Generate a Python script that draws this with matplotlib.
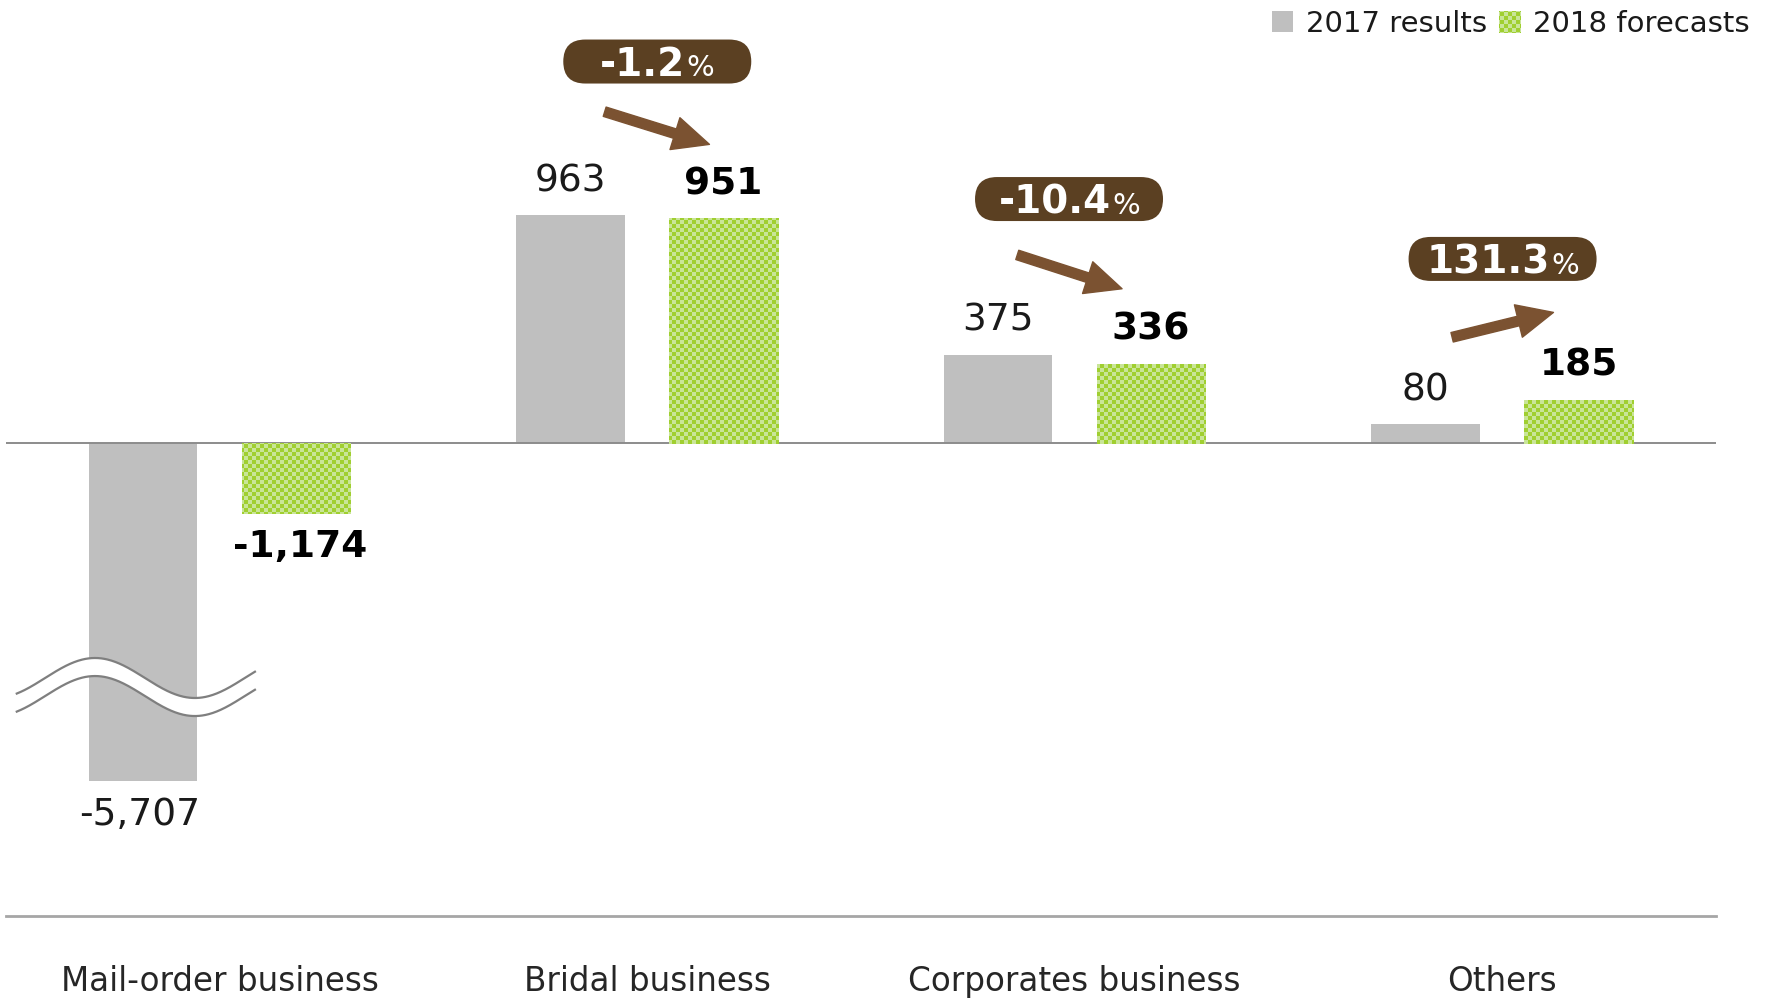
import numpy as np
import matplotlib
matplotlib.use("Agg")
import matplotlib.pyplot as plt
import matplotlib.transforms as mtransforms
from matplotlib.patches import FancyBboxPatch, Patch
from matplotlib.offsetbox import TextArea, HPacker, AnnotationBbox

# operating income by segment (millions of yen)
categories = ["Mail-order business", "Bridal business", "Corporates business", "Others"]
results_2017 = [-5707, 963, 375, 80]
forecasts_2018 = [-1174, 951, 336, 185]
change_labels = [None, "-1.2", "-10.4", "131.3"]
legend_labels = ["2017 results", "2018 forecasts"]

GRAY = "#bfbfbf"
GREEN_DARK = (160, 207, 48)
GREEN_LIGHT = (201, 229, 152)
BADGE = "#5b4022"
ARROW = "#7b5231"
TEXT = "#1a1a1a"

W, H, DPI = 1769, 1001, 100
NEG_SQUEEZE = 4.0  # negative side drawn at 1/4 scale


def fwd(y):
    y = np.asarray(y, dtype=float)
    return np.where(y >= 0, y, y / NEG_SQUEEZE)


def inv(y):
    y = np.asarray(y, dtype=float)
    return np.where(y >= 0, y, y * NEG_SQUEEZE)


fig = plt.figure(figsize=(W / DPI, H / DPI), dpi=DPI)
ax = fig.add_axes([0.0032, 0.0849, 0.9668, 0.9151])
ax.set_yscale("function", functions=(fwd, inv))
ax.set_xlim(-0.5, 3.5)
ax.set_ylim(-7989, 1873)

x = np.arange(len(categories))
bw = 0.254
off = 0.179

bars_a = ax.bar(x - off, results_2017, width=bw, color=GRAY, zorder=2)
bars_b = ax.bar(x + off, forecasts_2018, width=bw, color=np.array(GREEN_LIGHT) / 255, zorder=2)

ax.axhline(0, color="#8c8c8c", lw=1.4, zorder=3)

# value labels
for xi, v in zip(x - off, results_2017):
    dy = 24.5 if v >= 0 else -24.5
    ax.annotate(f"{v:,}", (xi, v), xytext=(-2 if v < 0 else 0, dy), textcoords="offset points",
                ha="center", va="center", fontsize=27, color=TEXT)
for xi, v in zip(x + off, forecasts_2018):
    dy = 24.5 if v >= 0 else -24.5
    ax.annotate(f"{v:,}", (xi, v), xytext=(3 if v < 0 else 0, dy), textcoords="offset points",
                ha="center", va="center", fontsize=27, color="black", fontweight="bold")

# axis break on the long negative bar
yb = results_2017[0] * 0.695
xs = np.linspace(-0.474, 0.083, 300)
upper = yb + 338 * np.cos(2 * np.pi * (xs + 0.291) / 0.467)
lower = upper - 305
ax.fill_between(xs, lower, upper, color="white", zorder=4, lw=0)
ax.plot(xs, upper, color="#7f7f7f", lw=1.6, zorder=5)
ax.plot(xs, lower, color="#7f7f7f", lw=1.6, zorder=5)

# change badges and arrows
badge_pos = [None, (1.024, 1613), (1.987, 1032), (3.001, 779)]
arrow_pos = [None,
             ((0.901, 1401), (1.146, 1263)),
             ((1.866, 796), (2.111, 653)),
             ((2.883, 448), (3.120, 553))]
for lab, bp, ap in zip(change_labels, badge_pos, arrow_pos):
    if lab is None:
        continue
    bw_in, bh_in = 1.88, 0.44
    tr = fig.dpi_scale_trans + mtransforms.ScaledTranslation(bp[0], bp[1], ax.transData)
    pill = FancyBboxPatch((-bw_in / 2, -bh_in / 2), bw_in, bh_in,
                          boxstyle=f"round,pad=0,rounding_size={bh_in / 2}",
                          fc=BADGE, ec="none", transform=tr, zorder=6)
    ax.add_patch(pill)
    txt = HPacker(children=[
        TextArea(lab, textprops=dict(color="white", fontsize=28, fontweight="bold")),
        TextArea("%", textprops=dict(color="white", fontsize=21)),
    ], align="baseline", pad=0, sep=1)
    ab = AnnotationBbox(txt, bp, frameon=False, box_alignment=(0.5, 0.6), zorder=7)
    ax.add_artist(ab)
    ax.annotate("", xy=ap[1], xytext=ap[0],
                arrowprops=dict(arrowstyle="simple,head_length=1.3,head_width=1.2,tail_width=0.35",
                                mutation_scale=20, color=ARROW, shrinkA=0, shrinkB=0),
                zorder=6)

# axes styling
for s in ["top", "right", "left"]:
    ax.spines[s].set_visible(False)
ax.spines["bottom"].set_color("#a6a6a6")
ax.spines["bottom"].set_linewidth(2)
ax.set_yticks([])
ax.set_xticks(x)
ax.set_xticklabels(categories, fontsize=23.5, color="#262626")
ax.tick_params(axis="x", length=0, pad=35)
ax.minorticks_off()

leg = fig.legend(handles=[Patch(fc=GRAY, ec="none"), Patch(fc=np.array(GREEN_LIGHT) / 255, ec="none")],
                 labels=legend_labels, loc="upper right", bbox_to_anchor=(1750 / W, 1 - 10 / H),
                 ncol=2, frameon=False, fontsize=21, handlelength=0.72, handleheight=0.72,
                 handletextpad=0.45, columnspacing=0.4, borderpad=0, borderaxespad=0,
                 labelcolor=TEXT)

# checkerboard fill for the forecast bars
yy, xx = np.mgrid[0:H, 0:W]
checker = np.zeros((H, W, 4), dtype=np.uint8)
mask = ((yy // 4 + xx // 4) % 2) == 0
checker[mask, :3] = GREEN_DARK
checker[~mask, :3] = GREEN_LIGHT
checker[..., 3] = 255
for p in list(bars_b) + [leg.get_patches()[1]]:
    im = fig.figimage(checker, xo=0, yo=0, zorder=8)
    im.set_clip_path(p)

fig.savefig("out.png", dpi=DPI)
